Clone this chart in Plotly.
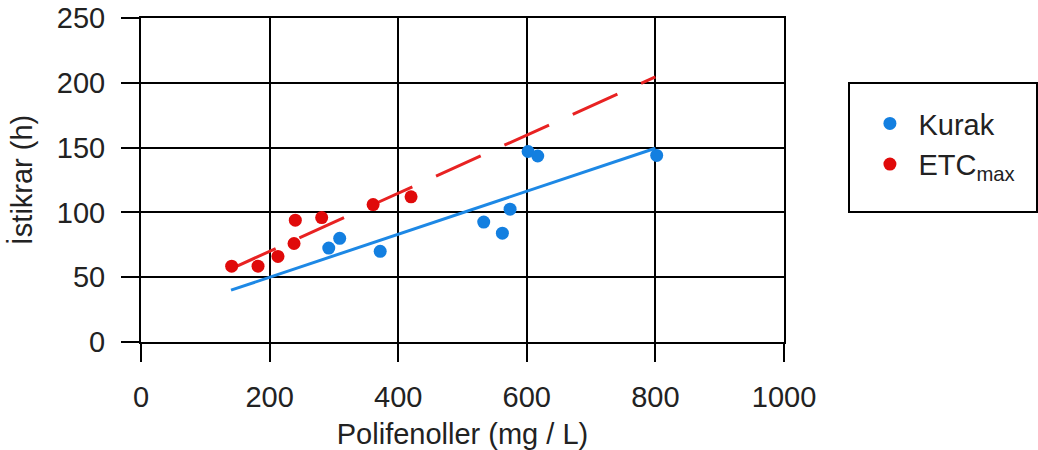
import plotly.graph_objects as go

# Data
kurak_x = [292, 309, 372, 533, 562, 574, 602, 617, 802]
kurak_y = [72.5, 80, 70, 92.5, 84, 102.5, 147, 143.5, 144]
etc_x = [141, 182, 213, 238, 240, 281, 361, 420]
etc_y = [58.5, 58.5, 66, 76, 94, 96, 106, 112]

# Fitted trend lines (endpoints)
kurak_fit_x = [140, 800]
kurak_fit_y = [40, 149.5]
etc_fit_x = [140, 800]
etc_fit_y = [56.5, 204.5]

x_ticks = [0, 200, 400, 600, 800, 1000]
y_ticks = [0, 50, 100, 150, 200, 250]

BLUE = "#137fe0"
RED = "#e00a0a"
FONT = "Liberation Sans, Arial, Helvetica, sans-serif"

fig = go.Figure()
fig.add_trace(go.Scatter(x=kurak_fit_x, y=kurak_fit_y, mode="lines",
                         line=dict(color="#1d88e5", width=3), showlegend=False,
                         hoverinfo="skip"))
fig.add_trace(go.Scatter(x=etc_fit_x, y=etc_fit_y, mode="lines",
                         line=dict(color="#e82222", width=3, dash="49px,26px"),
                         showlegend=False, hoverinfo="skip"))
fig.add_trace(go.Scatter(x=kurak_x, y=kurak_y, mode="markers", name="Kurak",
                         marker=dict(color=BLUE, size=13)))
fig.add_trace(go.Scatter(x=etc_x, y=etc_y, mode="markers", name="ETC<sub>max</sub>",
                         marker=dict(color=RED, size=13)))

axis_common = dict(
    showgrid=True, gridcolor="black", gridwidth=2,
    showline=True, linecolor="black", linewidth=2, mirror=True,
    zeroline=False, automargin=False,
    ticks="outside", ticklen=18, tickwidth=2, tickcolor="black",
    ticklabelstandoff=10,
    tickfont=dict(family=FONT, size=29, color="#222"),
)

fig.update_xaxes(range=[0, 1000], tickvals=x_ticks,
                 title=dict(text="Polifenoller (mg / L)", standoff=14,
                            font=dict(family=FONT, size=29, color="#222")),
                 **axis_common)
fig.update_yaxes(range=[0, 250], tickvals=y_ticks,
                 title=dict(text="İstikrar (h)", standoff=16,
                            font=dict(family=FONT, size=29, color="#222")),
                 **axis_common)

fig.update_layout(
    width=1038, height=450,
    margin=dict(l=141, r=254, t=18, b=108, autoexpand=False),
    plot_bgcolor="white", paper_bgcolor="white",
    font=dict(family=FONT, size=29, color="#222"),
    legend=dict(x=1.1204, y=0.753, xanchor="left", yanchor="top",
                bgcolor="rgba(0,0,0,0)", borderwidth=0,
                font=dict(family=FONT, size=29, color="#222"),
                itemwidth=47),
    shapes=[dict(type="rect", xref="paper", yref="paper",
                 x0=(849 - 141) / 643, x1=(1037 - 141) / 643,
                 y0=(342 - 212) / 324, y1=(342 - 83) / 324,
                 line=dict(color="black", width=2), fillcolor="rgba(0,0,0,0)")],
)

fig.write_html("out.html", config={"displayModeBar": False},
               post_script="document.body.style.margin='0';document.body.style.overflow='hidden';")
